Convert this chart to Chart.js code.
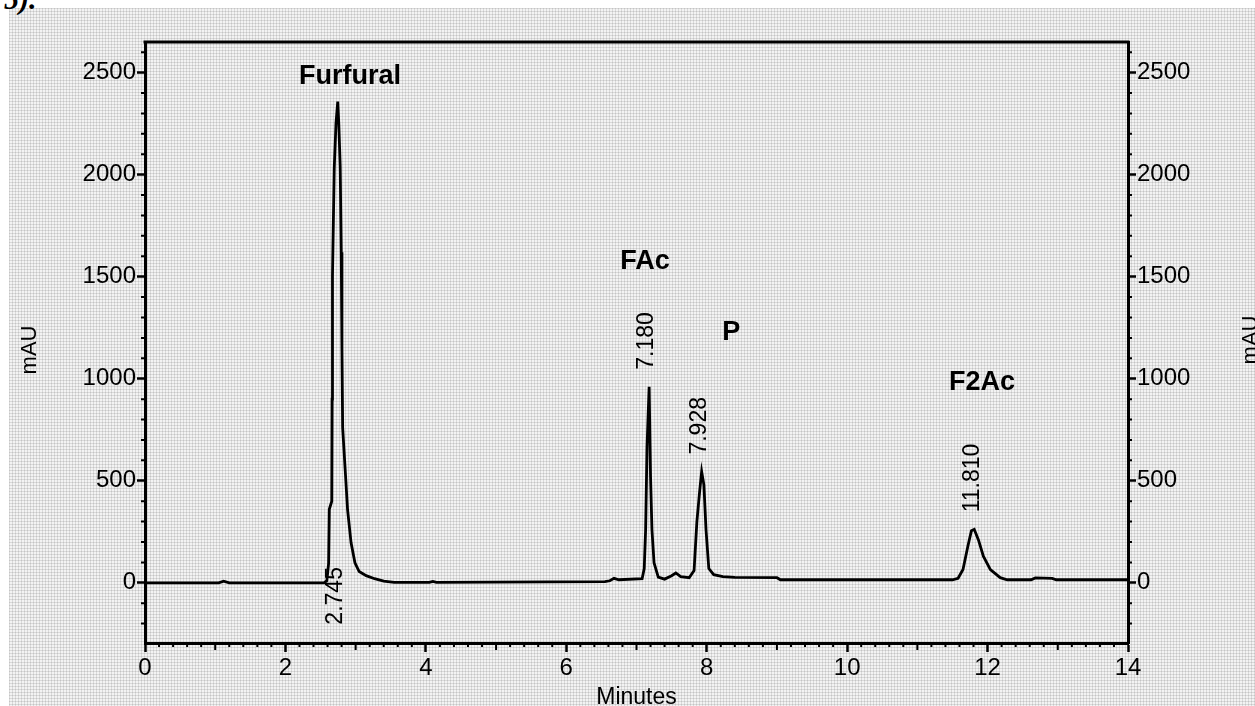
<!DOCTYPE html>
<html>
<head>
<meta charset="utf-8">
<script src="https://cdn.jsdelivr.net/npm/chart.js@4.4.1/dist/chart.umd.min.js"></script>
<style>
  html, body { margin: 0; padding: 0; background: #ffffff; overflow: hidden; }
  #paper {
    position: absolute; left: 9px; top: 8px; width: 1246px; height: 698px;
    background-color: #f3f3f3;
    background-image:
      linear-gradient(90deg, rgba(0,0,0,0.10) 1px, transparent 1px),
      linear-gradient(rgba(0,0,0,0.10) 1px, transparent 1px);
    background-size: 3px 3px;
  }
  #note {
    position: absolute; left: 4px; top: -18px;
    font: italic bold 30px "Liberation Serif", serif; color: #000;
  }
  #wrap { position: absolute; left: 0; top: 0; width: 1255px; height: 706px; }
</style>
</head>
<body>
<div id="paper"></div>
<div id="note">5).</div>
<div id="wrap"><canvas id="chrom" width="1255" height="706"></canvas></div>
<script>
// Chromatogram trace (Minutes vs mAU)
const times = [
  0.00, 1.05, 1.12, 1.20, 2.55, 2.59, 2.615, 2.625, 2.66, 2.665,
  2.67, 2.695, 2.72, 2.745, 2.76, 2.78, 2.795, 2.805, 2.815, 2.85,
  2.885, 2.935, 2.99, 3.05, 3.15, 3.27, 3.40, 3.55, 4.05, 4.10,
  4.15, 6.55, 6.62, 6.68, 6.75, 7.08, 7.11, 7.13, 7.15, 7.18,
  7.20, 7.22, 7.25, 7.31, 7.40, 7.50, 7.56, 7.63, 7.75, 7.82,
  7.86, 7.90, 7.928, 7.96, 7.99, 8.03, 8.10, 8.23, 8.40, 9.00,
  9.05, 11.50, 11.58, 11.65, 11.72, 11.77, 11.81, 11.87, 11.94, 12.04,
  12.18, 12.28, 12.62, 12.68, 12.92, 12.98, 14.00
];
const mAU = [
  0, 0, 8, 0, 0, 10, 95, 360, 400, 900,
  1500, 2030, 2250, 2358, 2250, 2040, 1620, 1150, 760, 560,
  358, 196, 98, 55, 35, 20, 8, 2, 2, 7,
  2, 6, 10, 22, 15, 20, 70, 260, 667, 961,
  520, 260, 98, 28, 18, 35, 48, 30, 25, 60,
  300, 450, 545, 480, 260, 70, 40, 30, 27, 25,
  15, 15, 22, 65, 180, 255, 262, 210, 130, 65,
  25, 15, 15, 24, 22, 15, 15
];

// peaks
const peakNames = ['Furfural', 'FAc', 'P', 'F2Ac'];
const peakTimes = [2.745, 7.180, 7.928, 11.810];

// axes
const xTicks = [0, 2, 4, 6, 8, 10, 12, 14];
const yTicks = [0, 500, 1000, 1500, 2000, 2500];
const yMin = -295, yMax = 2650;

// where the names sit (minutes, mAU)
const nameSpots = [[2.92, 2483], [7.12, 1572], [8.35, 1224], [11.92, 979]];

const FONT = '"Liberation Sans", Arial, sans-serif';

const framePlugin = {
  id: 'frame',
  afterDraw(chart) {
    const ctx = chart.ctx;
    const a = chart.chartArea;
    const xs = chart.scales.x, yl = chart.scales.y;
    ctx.save();
    ctx.strokeStyle = '#000';
    ctx.lineWidth = 3;
    ctx.beginPath();
    ctx.moveTo(a.left - 1.5, a.top);
    ctx.lineTo(a.right + 1.5, a.top);
    ctx.stroke();

    // minor ticks
    ctx.lineWidth = 2;
    ctx.beginPath();
    for (let v = -200; v <= 2600; v += 100) {
      if (v % 500 === 0) continue;
      const py = yl.getPixelForValue(v);
      ctx.moveTo(a.left, py); ctx.lineTo(a.left - 4, py);
      ctx.moveTo(a.right, py); ctx.lineTo(a.right + 4, py);
    }
    for (let i = 1; i < 70; i++) {
      if (i % 10 === 0) continue;
      const px = xs.getPixelForValue(i / 5);
      const len = (i % 5 === 0) ? 7 : 4;
      ctx.moveTo(px, a.bottom); ctx.lineTo(px, a.bottom + len);
    }
    ctx.stroke();

    // axis titles
    ctx.fillStyle = '#000';
    ctx.font = '23px ' + FONT;
    ctx.textAlign = 'center';
    ctx.textBaseline = 'alphabetic';
    ctx.fillText('Minutes', (a.left + a.right) / 2, 704);
    ctx.font = '22px ' + FONT;
    ctx.textBaseline = 'middle';
    [[30, 350], [1251, 340]].forEach(([tx, ty]) => {
      ctx.save();
      ctx.translate(tx, ty);
      ctx.rotate(-Math.PI / 2);
      ctx.fillText('mAU', 0, 0);
      ctx.restore();
    });

    // peak names
    ctx.font = 'bold 27px ' + FONT;
    peakNames.forEach((n, i) => {
      ctx.fillText(n, xs.getPixelForValue(nameSpots[i][0]), yl.getPixelForValue(nameSpots[i][1]));
    });

    // retention times, rotated above each apex
    ctx.font = '23px ' + FONT;
    ctx.textAlign = 'left';
    peakTimes.forEach((t) => {
      let apex = 0;
      times.forEach((tt, k) => { if (Math.abs(tt - t) < 0.06) apex = Math.max(apex, mAU[k]); });
      let py = yl.getPixelForValue(apex) - 17;
      if (py < a.top + 80) py = yl.getPixelForValue(-205);
      ctx.save();
      ctx.translate(xs.getPixelForValue(t) - 2, py);
      ctx.rotate(-Math.PI / 2);
      ctx.fillText(t.toFixed(3), 0, 0);
      ctx.restore();
    });
    ctx.restore();
  }
};

const tickFont = { family: FONT, size: 24 };
const plain = v => String(v);

new Chart(document.getElementById('chrom'), {
  type: 'line',
  data: {
    datasets: [{
      data: times.map((t, i) => ({ x: t, y: mAU[i] })),
      borderColor: '#000',
      borderWidth: 2.8,
      pointRadius: 0,
      tension: 0,
      fill: false
    }]
  },
  options: {
    responsive: false,
    animation: false,
    devicePixelRatio: 1,
    layout: { padding: { top: 42, left: 0, right: 0, bottom: 0 } },
    plugins: { legend: { display: false }, tooltip: { enabled: false } },
    scales: {
      x: {
        type: 'linear', position: 'bottom', min: 0, max: 14,
        afterBuildTicks: s => { s.ticks = xTicks.map(v => ({ value: v })); },
        afterFit: s => { s.height = 63; },
        ticks: { font: tickFont, color: '#000', padding: 2, maxRotation: 0, callback: plain },
        grid: { drawOnChartArea: false, tickLength: 9, tickWidth: 2.5, tickColor: '#000' },
        border: { color: '#000', width: 3 }
      },
      y: {
        type: 'linear', position: 'left', min: yMin, max: yMax,
        afterBuildTicks: s => { s.ticks = yTicks.map(v => ({ value: v })); },
        afterFit: s => { s.width = 145; },
        ticks: { font: tickFont, color: '#000', padding: 1, callback: plain },
        grid: { drawOnChartArea: false, tickLength: 8, tickWidth: 2.5, tickColor: '#000' },
        border: { color: '#000', width: 3 }
      },
      y2: {
        type: 'linear', position: 'right', min: yMin, max: yMax,
        afterBuildTicks: s => { s.ticks = yTicks.map(v => ({ value: v })); },
        afterFit: s => { s.width = 127; },
        ticks: { font: tickFont, color: '#000', padding: 1, callback: plain },
        grid: { drawOnChartArea: false, tickLength: 8, tickWidth: 2.5, tickColor: '#000' },
        border: { color: '#000', width: 3 }
      }
    }
  },
  plugins: [framePlugin]
});
</script>
</body>
</html>
